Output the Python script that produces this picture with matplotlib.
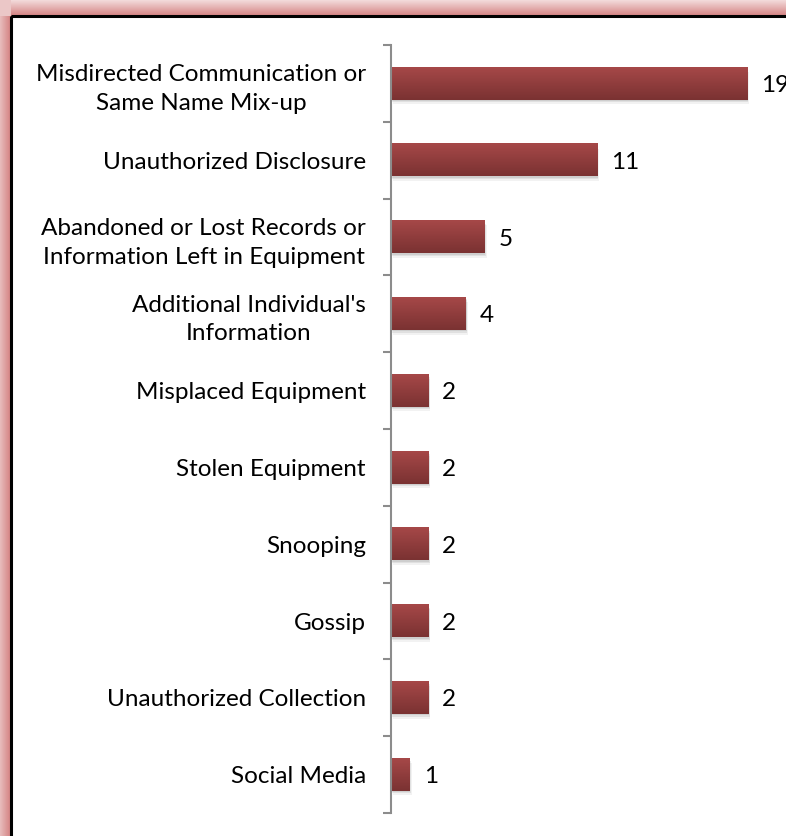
import numpy as np
import matplotlib
matplotlib.use("Agg")
from matplotlib import pyplot as plt
from matplotlib.patches import Rectangle

plt.rcParams['font.family'] = ['Lato', 'DejaVu Sans']

# categories (top to bottom) and counts
categories = ["Misdirected Communication or\nSame Name Mix-up",
              "Unauthorized Disclosure",
              "Abandoned or Lost Records or\nInformation Left in Equipment",
              "Additional Individual's\nInformation",
              "Misplaced Equipment",
              "Stolen Equipment",
              "Snooping",
              "Gossip",
              "Unauthorized Collection",
              "Social Media"]
counts = [19, 11, 5, 4, 2, 2, 2, 2, 2, 1]

W, H = 786, 836
fig = plt.figure(figsize=(W/100, H/100), dpi=100)

# background: pink glow + black frame (pixel coords)
bg = fig.add_axes([0, 0, 1, 1])
bg.set_xlim(0, W)
bg.set_ylim(H, 0)
bg.axis("off")
glow = np.ones((H, W, 4))
glow[..., 3] = 0
pink = np.array([212, 130, 130]) / 255.0
for y in range(16):
    a = 0.3 + 0.7 * y / 15
    glow[y, 8:, :3] = pink
    glow[y, 8:, 3] = a
for x in range(11):
    a = 0.55 + 0.45 * x / 10
    glow[8:, x, :3] = pink
    glow[8:, x, 3] = np.maximum(glow[8:, x, 3], a)
glow[:16, :11, :3] = pink
glow[:16, :11, 3] = 0.45
bg.imshow(glow, extent=(0, W, H, 0), aspect="auto", interpolation="nearest")
bg.add_patch(Rectangle((11, 16), W, H, fill=False, edgecolor="black", linewidth=2.2))

# main chart axes
x0, y_top, y_bot = 391, 45, 813
scale = 18.74  # px per unit
ax = fig.add_axes([x0 / W, 1 - y_bot / H, 1 - x0 / W, (y_bot - y_top) / H])
ax.patch.set_alpha(0)
n = len(categories)
pos = np.arange(n)

bh = 0.42
top_c = np.array([166, 72, 72]) / 255.0
bot_c = np.array([122, 50, 50]) / 255.0
grad = np.linspace(0, 1, 64)[:, None, None] * (bot_c - top_c) + top_c
grad = np.repeat(grad, 2, axis=1)

bars = ax.barh(pos, counts, height=bh, color="none", edgecolor="none")
for b, v in zip(bars, counts):
    y = b.get_y()
    # soft shadow
    for k, al in [(0.10, 0.05), (0.06, 0.07), (0.03, 0.08)]:
        ax.add_patch(Rectangle((k, y + k * 0.6), v, bh, facecolor="#000000",
                               alpha=al, edgecolor="none", zorder=1))
    ax.imshow(grad, extent=(0, v, y + bh, y), aspect="auto", zorder=2,
              interpolation="bilinear")
    ax.annotate(str(v), xy=(v, y + bh / 2), xytext=(10, -1.5), textcoords="offset points",
                ha="left", va="center", fontsize=17.5, color="black",
                annotation_clip=False)
ax.set_xlim(0, (W - x0) / scale)
ax.set_ylim(n - 0.5, -0.5)

for s in ["top", "right", "bottom"]:
    ax.spines[s].set_visible(False)
ax.spines["left"].set_color("#8c8c8c")
ax.spines["left"].set_linewidth(1.5)
ax.set_xticks([])
ax.set_yticks(pos)
ax.set_yticklabels(categories, fontsize=17.5, multialignment="center", linespacing=1.45)
ax.tick_params(axis="y", which="major", length=0, pad=18)
ax.set_yticks(np.arange(n + 1) - 0.5, minor=True)
ax.tick_params(axis="y", which="minor", length=6, width=1.5, color="#8c8c8c")

fig.savefig("out.png", dpi=100)
